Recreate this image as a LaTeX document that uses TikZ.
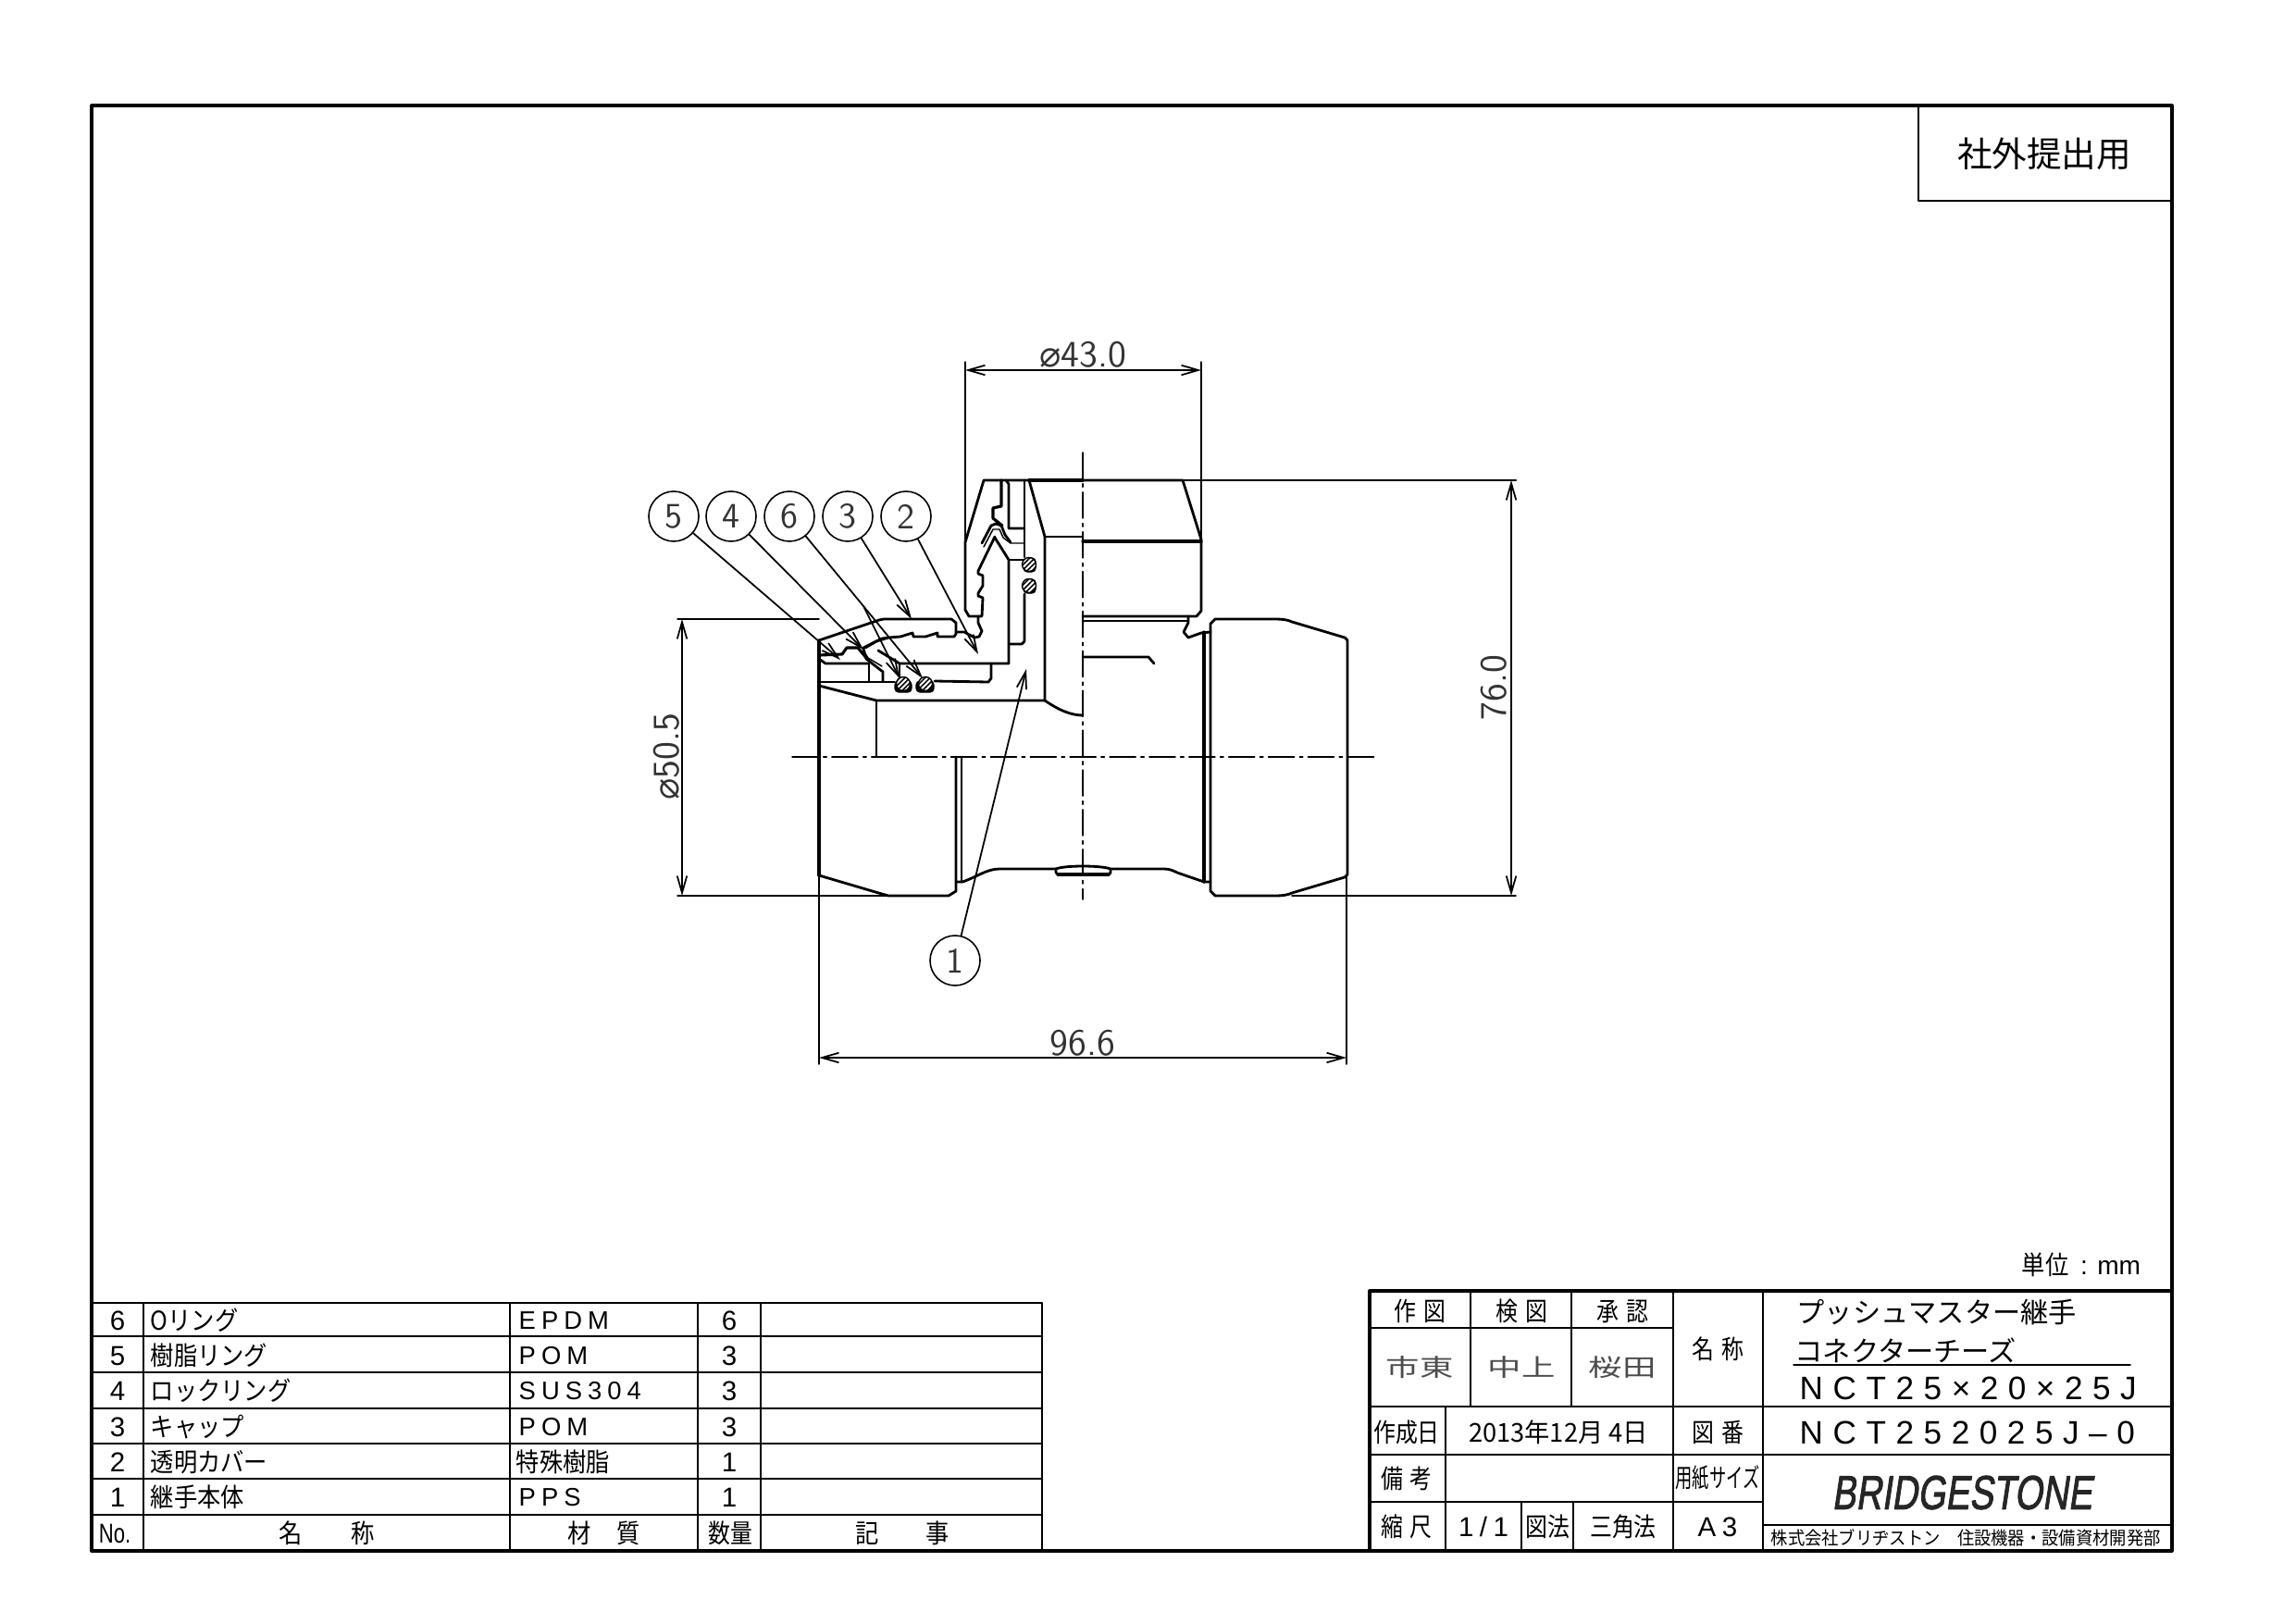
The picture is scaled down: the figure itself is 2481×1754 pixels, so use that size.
\documentclass[tikz,border=0pt]{standalone}
\usepackage{graphicx}
\usepackage{fontspec}
\usetikzlibrary{arrows.meta,patterns.meta}
\newfontfamily\jpfont{Noto Sans CJK JP}
\newfontfamily\cadfont{Liberation Sans}
\newfontfamily\cadspaced[LetterSpace=22]{Liberation Sans}
\newfontfamily\codespaced[LetterSpace=30]{Liberation Sans}
\newfontfamily\brandfont[FakeBold=2,FakeSlant=.2]{Liberation Sans}
\newfontfamily\symfont{DejaVu Sans}
\newcommand{\sx}[2]{\scalebox{#1}[1]{#2}}
\newcommand{\dia}{{\symfont\fontsize{11}{13}\selectfont ⌀}}
\tikzset{
  heavyline/.style={line width=0.9pt},
  bodyline/.style={line width=0.8pt},
  thinline/.style={line width=0.42pt},
  centerline/.style={line width=0.4pt,dash pattern=on 8pt off 1.6pt on 1pt off 1.6pt},
  dimline/.style={line width=0.5pt,<->},
  leaderline/.style={line width=0.5pt,->},
  balloon/.style={circle,draw,line width=0.45pt,minimum size=5.4mm,inner sep=0pt,text=black!80,font=\sffamily\fontsize{11}{13}\selectfont},
  dimtext/.style={inner sep=0pt,text=black!80,font=\sffamily\fontsize{11.5}{13}\selectfont},
  jptext/.style={inner sep=0pt,font=\jpfont\fontsize{8}{10}\selectfont},
  jpbig/.style={inner sep=0pt,font=\jpfont\fontsize{8.6}{10}\selectfont},
  lattext/.style={inner sep=0pt,font=\cadspaced\fontsize{7.8}{10}\selectfont},
  numtext/.style={inner sep=0pt,font=\cadfont\fontsize{8.4}{10}\selectfont},
  codetext/.style={inner sep=0pt,font=\codespaced\fontsize{10}{12}\selectfont},
  signtext/.style={inner sep=0pt,text=black!70,font=\jpfont\fontsize{7.4}{9}\selectfont},
  oring/.style={line width=0.4pt,fill=white,postaction={pattern={Lines[angle=45,distance=1.1pt,line width=0.45pt]}}},
  ogroove/.style={fill=black,draw,line width=0.4pt,rounded corners=1.2pt}
}
\begin{document}
\begin{tikzpicture}[line cap=round,line join=round,>={Straight Barb[length=5.2pt,width=3pt]},x=0.1mm,y=-0.1mm]
\useasboundingbox (0,0) rectangle (2481,1754);
% sheet frame
\draw [heavyline] (99,114) rectangle (2347,1676);
\draw [bodyline] (2073,114) -- (2073,217) -- (2347,217);
\node [inner sep=0pt,font=\jpfont\fontsize{10.7}{12}\selectfont] (stamp) at (2209,166) {社外提出用};
\node [inner sep=0pt,font=\fontsize{8}{10}\selectfont] (unit) at (2249,1367) {\jpfont\sx{.9}{単位}\,\cadfont\ : mm};
% center lines
\draw [centerline] (1170,489) -- (1170,972);
\draw [centerline] (856,818) -- (1486,818);
% upper branch, cap and cover
\draw [bodyline] (1170,519) -- (1063,519) -- (1043,586) -- (1043,659) -- (1047,666) -- (1061,666) -- (1062,646) -- (1057,644) -- (1057,641) -- (1062,633) -- (1062,622) -- (1057,620) -- (1057,617) -- (1075,580);
\draw [bodyline] (1061,587) -- (1071,568) -- (1076,566) -- (1082,568) -- (1086,578) -- (1092,586);
\draw [thinline] (1063,591) -- (1073,572) -- (1080,572) -- (1084,581) -- (1092,587) -- (1107,587);
\draw [heavyline] (1082,519) -- (1082,547) -- (1073,549) -- (1073,560) -- (1083,568);
\draw [bodyline] (1087,519) -- (1090,523) -- (1090,571) -- (1107,571);
\draw [bodyline] (1075,581) -- (1090,605) -- (1090,717);
\draw [thinline] (1090,605) -- (1106,605);
\draw [bodyline] (1107,519) -- (1107,602);
\draw [bodyline] (1107,642) -- (1107,693) -- (1104,696) -- (1091,696);
\draw [heavyline] (1112,519) -- (1170,519);
\draw [bodyline] (1112,519) -- (1129,580) -- (1129,757) -- (947,757) -- (885,741);
\draw [thinline] (1129,580) -- (1170,580);
\draw [bodyline] (1129,757) .. controls (1145,768) and (1158,773) .. (1170,773);
\draw [bodyline] (1057,666) -- (1057,673) -- (1061,682) -- (1058,688) -- (1053,689) -- (1042,683) -- (1033,683);
% o-rings of the upper branch
\draw [ogroove] (1106,603) rectangle (1119,618);
\draw [ogroove] (1106,626) rectangle (1119,641);
\draw [oring] (1112,610) circle (7.5);
\draw [oring] (1112,633) circle (7.5);
% upper branch, right half
\draw [bodyline] (1170,519) -- (1278,519) -- (1298,583) -- (1298,660) -- (1293,666) -- (1170,666);
\draw [heavyline] (1170,585) -- (1298,585);
\draw [bodyline] (1170,671) -- (1283,671);
\draw [bodyline] (1284,666) -- (1284,673) -- (1279,683) -- (1284,689) -- (1298,684) -- (1308,683);
\draw [bodyline] (1170,710) -- (1241,710) -- (1247,717);
% left cap, upper half in section
\draw [heavyline] (885,692) -- (885,946);
\draw [bodyline] (885,692) -- (950,670) -- (955,669) -- (1028,669) -- (1033,673) -- (1033,685) -- (1031,688) -- (1013,688) -- (1013,684) -- (1000,688) -- (987,688) -- (986,684) -- (973,688) -- (960,689) -- (947,693) -- (935,700);
\draw [heavyline] (885,708) -- (910,707) -- (915,700) -- (927,700) -- (937,712);
\draw [bodyline] (933,700) -- (953,690) -- (960,689);
\draw [thinline] (933,703) -- (938,711) -- (953,720);
\draw [bodyline] (933,701) -- (936,712) -- (954,726) -- (954,736);
\draw [bodyline] (885,712) -- (892,717) -- (938,717);
\draw [bodyline] (939,717) -- (939,736);
\draw [bodyline] (949,703) -- (972,717) -- (1090,717);
\draw [bodyline] (972,717) -- (972,733);
\draw [thinline] (885,737) -- (967,737);
\draw [bodyline] (1010,736) -- (1068,737) -- (1071,733) -- (1071,717);
\draw [bodyline] (947,757) -- (947,818);
% o-rings of the left branch
\draw [ogroove] (967,736) rectangle (985,748);
\draw [ogroove] (990,736) rectangle (1009,748);
\draw [oring] (976,739) circle (7.5);
\draw [oring] (1000,739) circle (7.5);
% lower half, left cap and body
\draw [bodyline] (885,946) -- (946,964) -- (960,968) -- (1025,968) -- (1033,963) -- (1033,818);
\draw [bodyline] (1033,953) -- (1040,953) .. controls (1055,948) and (1066,939) .. (1080,939) -- (1141,939);
\draw [bodyline] (1039,818) -- (1039,953);
\draw [bodyline] (1141,939) .. controls (1150,935) and (1190,935) .. (1200,939) -- (1258,939) .. controls (1264,939) and (1268,941) .. (1272,943) -- (1301,953) -- (1308,953);
\draw [bodyline] (1141,939) -- (1141,943) -- (1143,945);
\draw [heavyline] (1143,945) -- (1198,945);
\draw [bodyline] (1198,945) -- (1200,943) -- (1200,939);
% right cap
\draw [heavyline] (1301,683) -- (1301,953);
\draw [bodyline] (1308,674) -- (1313,669) -- (1379,669) .. controls (1386,669) and (1392,670) .. (1396,672) -- (1453,689) -- (1456,692) -- (1456,945) -- (1453,948) -- (1396,965) .. controls (1392,967) and (1386,968) .. (1379,968) -- (1313,968) -- (1308,963) -- cycle;
% balloons with leaders
\node [balloon] (b5) at (728,558) {5};
\node [balloon] (b4) at (790,558) {4};
\node [balloon] (b6) at (853,558) {6};
\node [balloon] (b3) at (916,558) {3};
\node [balloon] (b2) at (979,558) {2};
\node [balloon] (b1) at (1032,1038) {1};
\coordinate (t5) at (908,713);
\coordinate (t4) at (933,702);
\coordinate (k6) at (933,655);
\coordinate (t6a) at (972,733);
\coordinate (t6b) at (997,733);
\coordinate (t3) at (985,669);
\coordinate (t2) at (1057,707);
\coordinate (t1) at (1109,723);
\draw [leaderline] (b5) -- (t5);
\draw [leaderline] (b4) -- (t4);
\draw [leaderline,-] (b6) -- (k6);
\draw [leaderline] (k6) -- (t6a);
\draw [leaderline] (k6) -- (t6b);
\draw [leaderline] (b3) -- (t3);
\draw [leaderline] (b2) -- (t2);
\draw [leaderline] (b1) -- (t1);
% dimensions
\draw [thinline] (1043,391) -- (1043,586);
\draw [thinline] (1298,391) -- (1298,583);
\draw [dimline] (1043,400) -- (1298,400);
\node [dimtext] (d43) at (1170,383) {\dia 43.0};
\draw [bodyline] (1278,519) -- (1638,519);
\draw [thinline] (1396,968) -- (1638,968);
\draw [dimline] (1633,519) -- (1633,968);
\node [dimtext,rotate=90] (d76) at (1614,743) {76.0};
\draw [thinline] (732,669) -- (885,669);
\draw [thinline] (732,968) -- (960,968);
\draw [dimline] (737,669) -- (737,968);
\node [dimtext,rotate=90] (d50) at (720,818) {\dia 50.5};
\draw [thinline] (885,946) -- (885,1150);
\draw [thinline] (1455,948) -- (1455,1150);
\draw [dimline] (885,1143) -- (1455,1143);
\node [dimtext] (d96) at (1170,1127) {96.6};
% parts list
\draw [thinline] (99,1408) -- (1126,1408);
\draw [bodyline] (99,1444) -- (1126,1444);
\draw [thinline] (99,1483) -- (1126,1483);
\draw [bodyline] (99,1522) -- (1126,1522);
\draw [thinline] (99,1560) -- (1126,1560);
\draw [bodyline] (99,1598) -- (1126,1598);
\draw [bodyline] (99,1637) -- (1126,1637);
\draw [thinline] (155,1408) -- (155,1676);
\draw [thinline] (551,1408) -- (551,1676);
\draw [thinline] (754,1408) -- (754,1676);
\draw [thinline] (822,1408) -- (822,1676);
\draw [thinline] (1126,1408) -- (1126,1676);
\node [numtext] (no6) at (127,1427) {6};
\node [numtext] (no5) at (127,1465) {5};
\node [numtext] (no4) at (127,1503) {4};
\node [numtext] (no3) at (127,1542) {3};
\node [numtext] (no2) at (127,1580) {2};
\node [numtext] (no1) at (127,1618) {1};
\node [numtext] (nohead) at (124,1657) {\sx{.75}{No.}};
\node [jptext,anchor=west] (nm6) at (162,1427) {\sx{.9}{Oリング}};
\node [jptext,anchor=west] (nm5) at (162,1465) {\sx{.9}{樹脂リング}};
\node [jptext,anchor=west] (nm4) at (162,1503) {\sx{.9}{ロックリング}};
\node [jptext,anchor=west] (nm3) at (162,1542) {\sx{.9}{キャップ}};
\node [jptext,anchor=west] (nm2) at (162,1580) {\sx{.9}{透明カバー}};
\node [jptext,anchor=west] (nm1) at (162,1618) {\sx{.9}{継手本体}};
\node [jptext] (nmhead) at (353,1657) {\sx{.9}{名\hspace{2.1em}称}};
\node [lattext,anchor=west] (mt6) at (560,1427) {EPDM};
\node [lattext,anchor=west] (mt5) at (560,1465) {POM};
\node [lattext,anchor=west] (mt4) at (560,1503) {SUS304};
\node [lattext,anchor=west] (mt3) at (560,1542) {POM};
\node [jptext,anchor=west] (mt2) at (557,1580) {\sx{.9}{特殊樹脂}};
\node [lattext,anchor=west] (mt1) at (560,1618) {PPS};
\node [jptext] (mthead) at (653,1657) {\sx{.9}{材\hspace{1.1em}質}};
\node [numtext] (qt6) at (788,1427) {6};
\node [numtext] (qt5) at (788,1465) {3};
\node [numtext] (qt4) at (788,1503) {3};
\node [numtext] (qt3) at (788,1542) {3};
\node [numtext] (qt2) at (788,1580) {1};
\node [numtext] (qt1) at (788,1618) {1};
\node [jptext] (qthead) at (789,1657) {\sx{.85}{数量}};
\node [jptext] (rmhead) at (975,1657) {\sx{.9}{記\hspace{2em}事}};
% title block
\draw [heavyline] (1480,1395) -- (2347,1395);
\draw [heavyline] (1480,1395) -- (1480,1676);
\draw [thinline] (1480,1435) -- (1808,1435);
\draw [thinline] (1480,1520) -- (2347,1520);
\draw [bodyline] (1480,1572) -- (2347,1572);
\draw [thinline] (1480,1623) -- (1905,1623);
\draw [thinline] (1905,1648) -- (2347,1648);
\draw [thinline] (1938,1475) -- (2302,1475);
\draw [thinline] (1589,1395) -- (1589,1520);
\draw [thinline] (1698,1395) -- (1698,1520);
\draw [thinline] (1808,1395) -- (1808,1676);
\draw [thinline] (1905,1395) -- (1905,1676);
\draw [thinline] (1562,1520) -- (1562,1676);
\draw [thinline] (1644,1623) -- (1644,1676);
\draw [thinline] (1700,1623) -- (1700,1676);
\node [jptext] (hd1) at (1534,1417) {\sx{.85}{作\,\,図}};
\node [jptext] (hd2) at (1644,1417) {\sx{.85}{検\,\,図}};
\node [jptext] (hd3) at (1753,1417) {\sx{.85}{承\,\,認}};
\node [signtext] (sg1) at (1534,1478) {\sx{1.4}{市東}};
\node [signtext] (sg2) at (1644,1478) {\sx{1.4}{中上}};
\node [signtext] (sg3) at (1753,1478) {\sx{1.4}{桜田}};
\node [jptext] (lb1) at (1856,1458) {\sx{.85}{名\,\,称}};
\node [jpbig,anchor=west] (tt1) at (1941,1418) {プッシュマスター継手};
\node [jpbig,anchor=west] (tt2) at (1939,1459) {コネクターチーズ};
\node [codetext,anchor=west] (tt3) at (1944,1500) {NCT25×20×25J};
\node [jptext] (lb2) at (1520,1548) {\sx{.85}{作成日}};
\node [jptext] (dt) at (1684,1548) {\sx{.97}{2013年12月 4日}};
\node [jptext] (lb3) at (1856,1548) {\sx{.85}{図\,\,番}};
\node [codetext,anchor=west] (dwg) at (1944,1548) {NCT252025J–0};
\node [jptext] (lb4) at (1520,1598) {\sx{.85}{備\,\,考}};
\node [jptext] (lb5) at (1856,1597) {\sx{.65}{用紙サイズ}};
\node [inner sep=0pt,text=black!85] (brand) at (2120,1613) {\resizebox{28.1mm}{3.6mm}{\brandfont BRIDGESTONE}};
\node [jptext] (lb6) at (1520,1650) {\sx{.85}{縮\,\,尺}};
\node [numtext] (sc) at (1603,1650) {\cadspaced 1/1};
\node [jptext] (lb7) at (1672,1650) {\sx{.85}{図法}};
\node [jptext] (lb8) at (1754,1650) {\sx{.85}{三角法}};
\node [numtext] (sz) at (1856,1650) {\cadspaced A3};
\node [inner sep=0pt,font=\jpfont\fontsize{5.6}{7}\selectfont,anchor=west] (co) at (1913,1662) {\sx{.93}{株式会社ブリヂストン\hspace{1em}住設機器・設備資材開発部}};
\end{tikzpicture}
\end{document}
